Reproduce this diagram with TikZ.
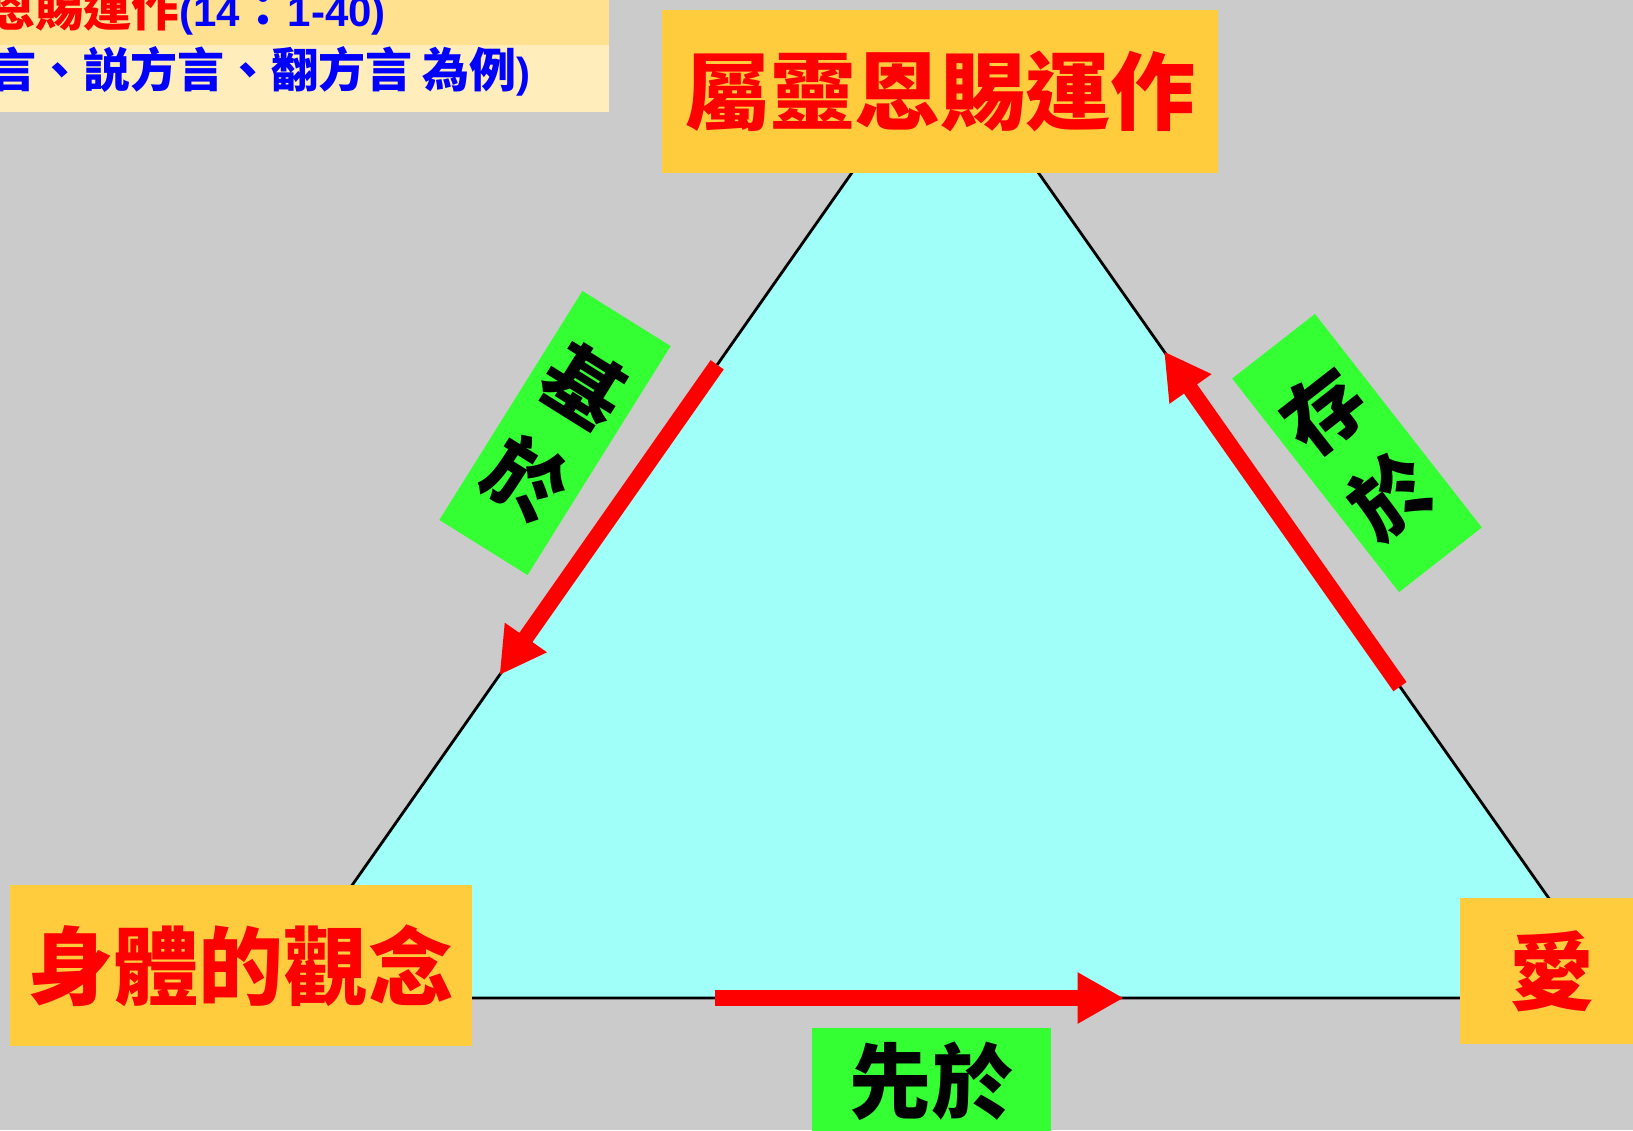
\documentclass[tikz,border=0pt]{standalone}
\usepackage{fontspec}
\newfontfamily\cjk{Noto Sans CJK TC}
\newfontfamily\latin{Liberation Sans}
\usetikzlibrary{arrows.meta,calc}
\definecolor{bggray}{HTML}{CBCBCB}
\definecolor{bandA}{HTML}{FFE190}
\definecolor{bandB}{HTML}{FFEEBB}
\definecolor{tricyan}{HTML}{A0FFF9}
\definecolor{boxorange}{HTML}{FFCC3D}
\definecolor{lblgreen}{HTML}{33FF33}
\definecolor{txtred}{HTML}{FF0000}
\definecolor{txtblue}{HTML}{0000FF}
\tikzset{
  titlebox/.style={fill=boxorange, inner sep=0pt, text=txtred,
    font=\cjk\bfseries\fontsize{85pt}{85pt}\selectfont},
  greenlbl/.style={fill=lblgreen, inner sep=0pt, text=black, align=center,
    font=\cjk\bfseries\fontsize{80pt}{108pt}\selectfont},
  redarrow/.style={draw=txtred, line width=16pt,
    -{Triangle[length=46pt,width=48pt]}},
  triedge/.style={draw=black, line width=2.8pt, fill=tricyan}
}
\begin{document}
\begin{tikzpicture}[x=1pt,y=-1pt]
\useasboundingbox (0,0) rectangle (1633,1130);
\fill[bggray] (0,0) rectangle (1633,1130);
% heading bands
\fill[bandA] (0,0) rectangle (609,45);
\fill[bandB] (0,45) rectangle (609,112);
\node[anchor=east, inner sep=0pt, text=txtred,
  font=\cjk\bfseries\fontsize{48pt}{48pt}\selectfont] (head1) at (386,10)
  {恩賜運作\textcolor{txtblue}{{\latin\fontsize{42pt}{42pt}\selectfont(14}：{\latin\fontsize{42pt}{42pt}\selectfont 1-40)}}};
\node[anchor=east, inner sep=0pt, text=txtblue,
  font=\cjk\bfseries\fontsize{47pt}{47pt}\selectfont] (head2) at (531,71)
  {言、説方言、翻方言 為例{\latin\fontsize{42pt}{42pt}\selectfont)}};
% triangle
\coordinate (A) at (945,40);
\coordinate (B) at (273,998);
\coordinate (C) at (1619,998);
\draw[triedge] (A) -- (B) -- (C) -- cycle;
% corner boxes
\node[titlebox, minimum width=556pt, minimum height=163pt] (top) at (940,91.5) {屬靈恩賜運作};
\node[titlebox, minimum width=462pt, minimum height=161pt] (body) at (241,965.5) {身體的觀念};
\node[titlebox, minimum width=180pt, minimum height=146pt, text width=180pt, align=center] (love) at (1550,971) {\hspace*{4pt}愛};
% arrows along edges
\coordinate (l1) at ($(A)!0.339!(B)$);
\coordinate (l2) at ($(A)!0.663!(B)$);
\coordinate (r1) at ($(A)!0.675!(C)$);
\coordinate (r2) at ($(A)!0.325!(C)$);
\coordinate (b1) at ($(B)!0.328!(C)$);
\coordinate (b2) at ($(B)!0.632!(C)$);
\draw[redarrow] (l1) -- (l2);
\draw[redarrow] (r1) -- (r2);
\draw[redarrow] (b1) -- (b2);
% green labels
\node[greenlbl, minimum width=104pt, minimum height=270pt, rotate=-32] (based) at (555,433) {基\\於};
\node[greenlbl, minimum width=105pt, minimum height=271pt, rotate=38] (exist) at (1357,453) {存\\於};
\node[greenlbl, minimum width=239pt, minimum height=107pt,
  font=\cjk\bfseries\fontsize{82pt}{82pt}\selectfont] (before) at (931.5,1081.5) {\raisebox{3pt}{先於}};
\end{tikzpicture}
\end{document}
